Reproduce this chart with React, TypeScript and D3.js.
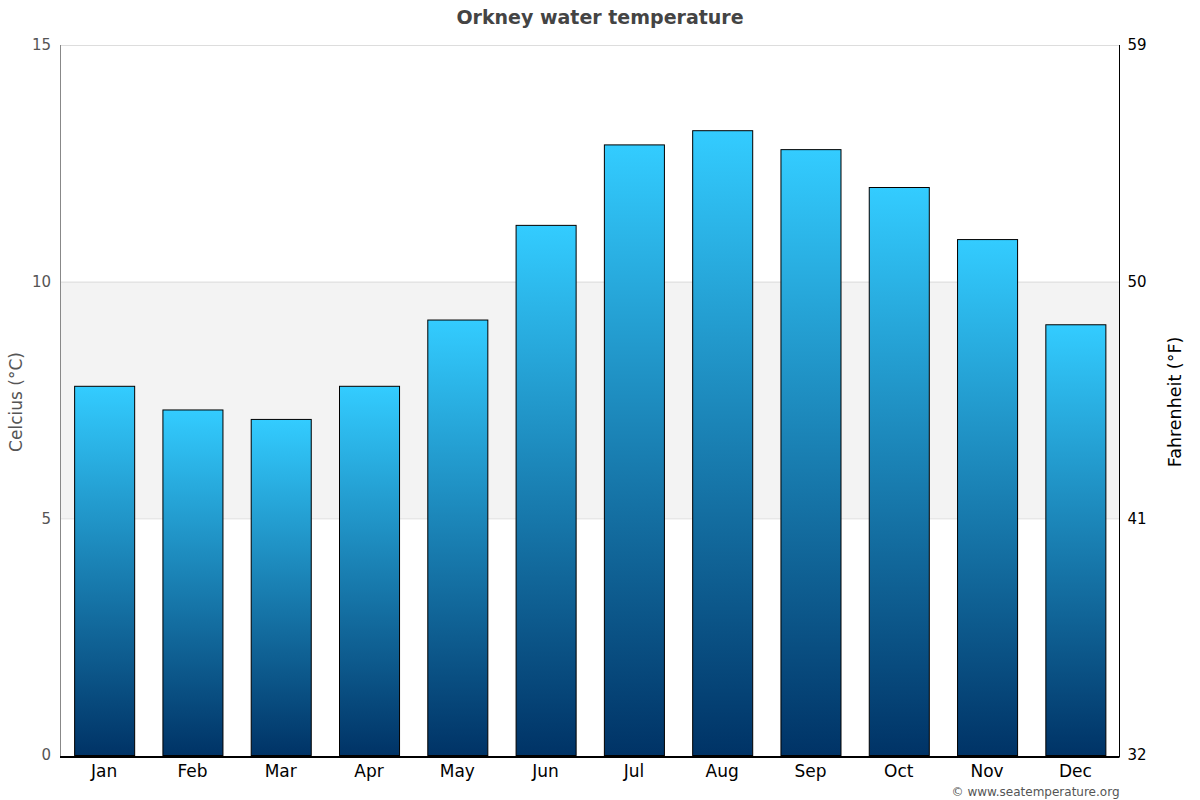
import React, { useEffect, useRef } from 'react';
import * as d3 from 'd3';

const months = ['Jan', 'Feb', 'Mar', 'Apr', 'May', 'Jun', 'Jul', 'Aug', 'Sep', 'Oct', 'Nov', 'Dec'];
const waterTemp = [7.8, 7.3, 7.1, 7.8, 9.2, 11.2, 12.9, 13.2, 12.8, 12.0, 10.9, 9.1];
const celsiusTicks = [0, 5, 10, 15];
const fahrenheitTicks = [32, 41, 50, 59];

const App: React.FC = () => {
  const svgRef = useRef<SVGSVGElement | null>(null);

  useEffect(() => {
    const width = 1200;
    const height = 800;
    const margin = { top: 45, right: 80.5, bottom: 45, left: 60 };
    const font = '"DejaVu Sans", Verdana, sans-serif';

    const svg = d3.select(svgRef.current)
      .attr('width', width)
      .attr('height', height)
      .style('background', '#fff')
      .style('font-family', font);

    svg.selectAll('*').remove();

    const x = d3.scaleBand()
      .domain(months)
      .range([margin.left, width - margin.right])
      .paddingInner(0.32)
      .paddingOuter(0.16);

    const y = d3.scaleLinear()
      .domain([0, 15])
      .range([height - margin.bottom, margin.top]);

    const yF = d3.scaleLinear()
      .domain([32, 59])
      .range([height - margin.bottom, margin.top]);

    // gradient for bars
    const defs = svg.append('defs');
    const grad = defs.append('linearGradient')
      .attr('id', 'barGrad')
      .attr('x1', 0).attr('y1', 0)
      .attr('x2', 0).attr('y2', 1);
    grad.append('stop').attr('offset', '0%').attr('stop-color', '#33ccff');
    grad.append('stop').attr('offset', '100%').attr('stop-color', '#003366');

    // shaded band 5-10
    svg.append('rect')
      .attr('x', margin.left)
      .attr('y', y(10))
      .attr('width', width - margin.right - margin.left)
      .attr('height', y(5) - y(10))
      .attr('fill', '#f3f3f3');

    // gridlines
    svg.append('g')
      .selectAll('line')
      .data(celsiusTicks.filter(d => d > 0))
      .join('line')
      .attr('x1', margin.left)
      .attr('x2', width - margin.right)
      .attr('y1', d => y(d) + 0.5)
      .attr('y2', d => y(d) + 0.5)
      .attr('stroke', '#dddddd')
      .attr('stroke-width', 1);

    // bars
    svg.selectAll('.bar')
      .data(waterTemp)
      .join('rect')
      .attr('class', 'bar')
      .attr('x', (_, i) => x(months[i])! + 0.5)
      .attr('y', d => y(d) + 0.5)
      .attr('width', x.bandwidth())
      .attr('height', d => y(0) - y(d))
      .attr('fill', 'url(#barGrad)')
      .attr('stroke', '#000')
      .attr('stroke-width', 1);

    // left axis line
    svg.append('line')
      .attr('x1', margin.left + 0.5)
      .attr('x2', margin.left + 0.5)
      .attr('y1', margin.top)
      .attr('y2', y(0) + 2)
      .attr('stroke', '#888')
      .attr('stroke-width', 1);

    // right axis line
    svg.append('line')
      .attr('x1', width - margin.right)
      .attr('x2', width - margin.right)
      .attr('y1', margin.top)
      .attr('y2', y(0) + 2)
      .attr('stroke', '#000')
      .attr('stroke-width', 1);

    // bottom axis line
    svg.append('line')
      .attr('x1', margin.left)
      .attr('x2', width - margin.right)
      .attr('y1', y(0) + 2)
      .attr('y2', y(0) + 2)
      .attr('stroke', '#000')
      .attr('stroke-width', 2);

    // left tick labels
    svg.append('g')
      .selectAll('text')
      .data(celsiusTicks)
      .join('text')
      .attr('x', margin.left - 9)
      .attr('y', d => y(d))
      .attr('dy', '0.35em')
      .attr('text-anchor', 'end')
      .style('font-size', '15px')
      .style('fill', '#555')
      .text(d => d);

    // right tick labels
    svg.append('g')
      .selectAll('text')
      .data(fahrenheitTicks)
      .join('text')
      .attr('x', width - margin.right + 8)
      .attr('y', d => yF(d))
      .attr('dy', '0.35em')
      .attr('text-anchor', 'start')
      .style('font-size', '15px')
      .style('fill', '#000')
      .text(d => d);

    // month labels
    svg.append('g')
      .selectAll('text')
      .data(months)
      .join('text')
      .attr('x', d => x(d)! + x.bandwidth() / 2)
      .attr('y', y(0) + 22)
      .attr('text-anchor', 'middle')
      .style('font-size', '17px')
      .style('fill', '#000')
      .text(d => d);

    // axis titles
    svg.append('text')
      .attr('transform', `translate(22,${(margin.top + y(0)) / 2 + 2}) rotate(-90)`)
      .attr('text-anchor', 'middle')
      .style('font-size', '17px')
      .style('fill', '#555')
      .text('Celcius (°C)');

    svg.append('text')
      .attr('transform', `translate(1181,${(margin.top + y(0)) / 2 + 2}) rotate(-90)`)
      .attr('text-anchor', 'middle')
      .style('font-size', '17.5px')
      .style('fill', '#000')
      .text('Fahrenheit (°F)');

    // title
    svg.append('text')
      .attr('x', width / 2)
      .attr('y', 24)
      .attr('text-anchor', 'middle')
      .style('font-size', '19px')
      .style('font-weight', 'bold')
      .style('fill', '#444')
      .text('Orkney water temperature');

    // credit
    svg.append('text')
      .attr('x', width - margin.right)
      .attr('y', 796)
      .attr('text-anchor', 'end')
      .style('font-size', '12px')
      .style('fill', '#555')
      .text('© www.seatemperature.org');
  }, []);

  return (
    <svg
      ref={svgRef}
      style={{ position: 'absolute', left: 0, top: 0, display: 'block' }}
    ></svg>
  );
};

export default App;
